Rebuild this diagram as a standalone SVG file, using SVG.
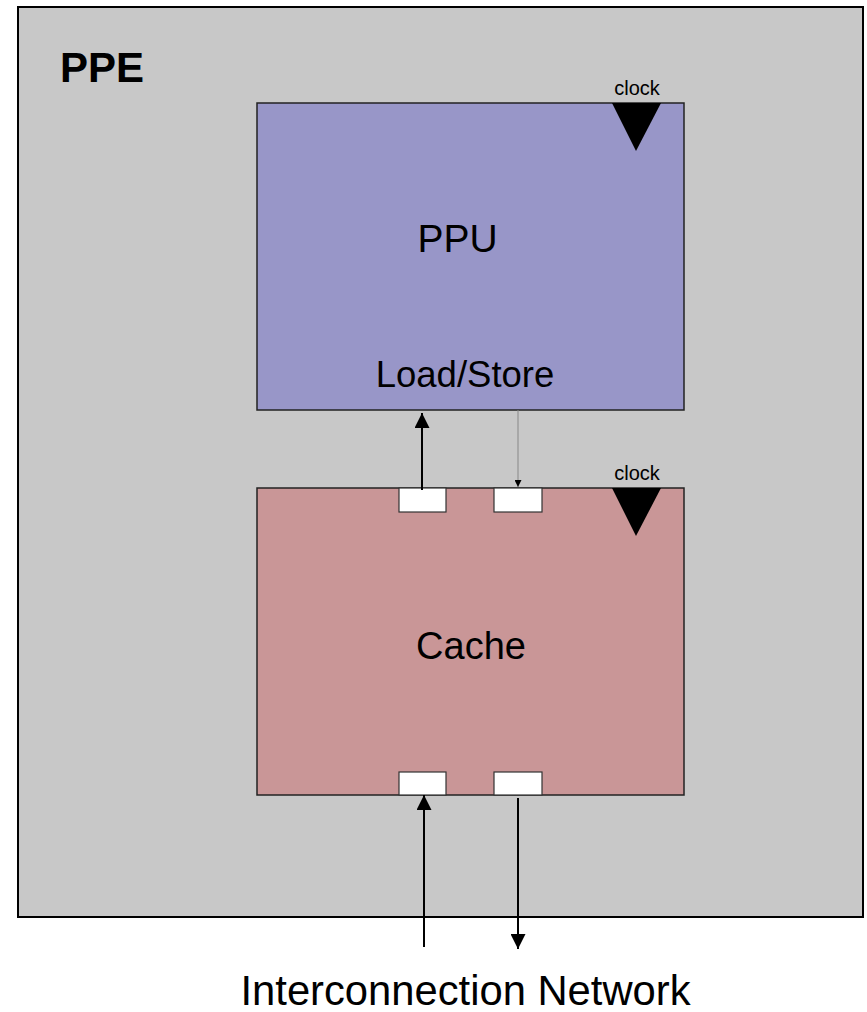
<svg xmlns="http://www.w3.org/2000/svg" width="867" height="1012" viewBox="0 0 867 1012">
<defs>
<style>
text{font-family:"Liberation Sans",Arial,sans-serif;fill:#000}
.box{stroke:#222;stroke-width:1.5}
.port{fill:#fff;stroke:#333;stroke-width:1.2}
.clk{fill:#000}
.wire{stroke:#000;stroke-width:2;fill:none}
</style>
<marker id="ah" viewBox="0 0 10 10" refX="10" refY="5" markerWidth="7.5" markerHeight="7.5" markerUnits="strokeWidth" orient="auto">
<path d="M0,0 L10,5 L0,10 Z" fill="#000"/>
</marker>
<marker id="ahs" viewBox="0 0 10 10" refX="10" refY="5" markerWidth="8" markerHeight="7" markerUnits="strokeWidth" orient="auto">
<path d="M0,0 L10,5 L0,10 Z" fill="#000"/>
</marker>
</defs>
<rect width="867" height="1012" fill="#fff"/>
<g id="ppe">
<rect x="18" y="7" width="845" height="910" fill="#c8c8c8" stroke="#000" stroke-width="2"/>
<text x="60" y="82" font-size="42" font-weight="bold">PPE</text>
</g>
<g id="ppu">
<rect class="box" x="257" y="103" width="427" height="307" fill="#9896c8"/>
<text x="457.5" y="252" font-size="39" text-anchor="middle">PPU</text>
<text x="465" y="387" font-size="36.5" text-anchor="middle">Load/Store</text>
<polygon class="clk" points="612,103 661,103 636,151"/>
<text x="637" y="95" font-size="20" text-anchor="middle">clock</text>
</g>
<g id="cache">
<rect class="box" x="257" y="488" width="427" height="307" fill="#c99697"/>
<text x="471" y="659" font-size="38" text-anchor="middle">Cache</text>
<polygon class="clk" points="612,488 661,488 636,536"/>
<text x="637" y="480" font-size="20" text-anchor="middle">clock</text>
<rect class="port" x="399" y="488" width="47" height="24"/>
<rect class="port" x="494" y="488" width="48" height="24"/>
<rect class="port" x="399" y="772" width="47" height="23"/>
<rect class="port" x="494" y="772" width="48" height="23"/>
</g>
<g id="network">
<text x="465.5" y="1005" font-size="43" text-anchor="middle" textLength="450" lengthAdjust="spacingAndGlyphs">Interconnection Network</text>
</g>
<g id="connectors">
<line class="wire" x1="422" y1="490" x2="422" y2="413" marker-end="url(#ah)"/>
<line x1="518" y1="410" x2="518" y2="487" stroke="#888" stroke-width="1" marker-end="url(#ahs)"/>
<line class="wire" x1="424" y1="947" x2="424" y2="795" marker-end="url(#ah)"/>
<line class="wire" x1="518" y1="798" x2="518" y2="949" marker-end="url(#ah)"/>
</g>
</svg>
